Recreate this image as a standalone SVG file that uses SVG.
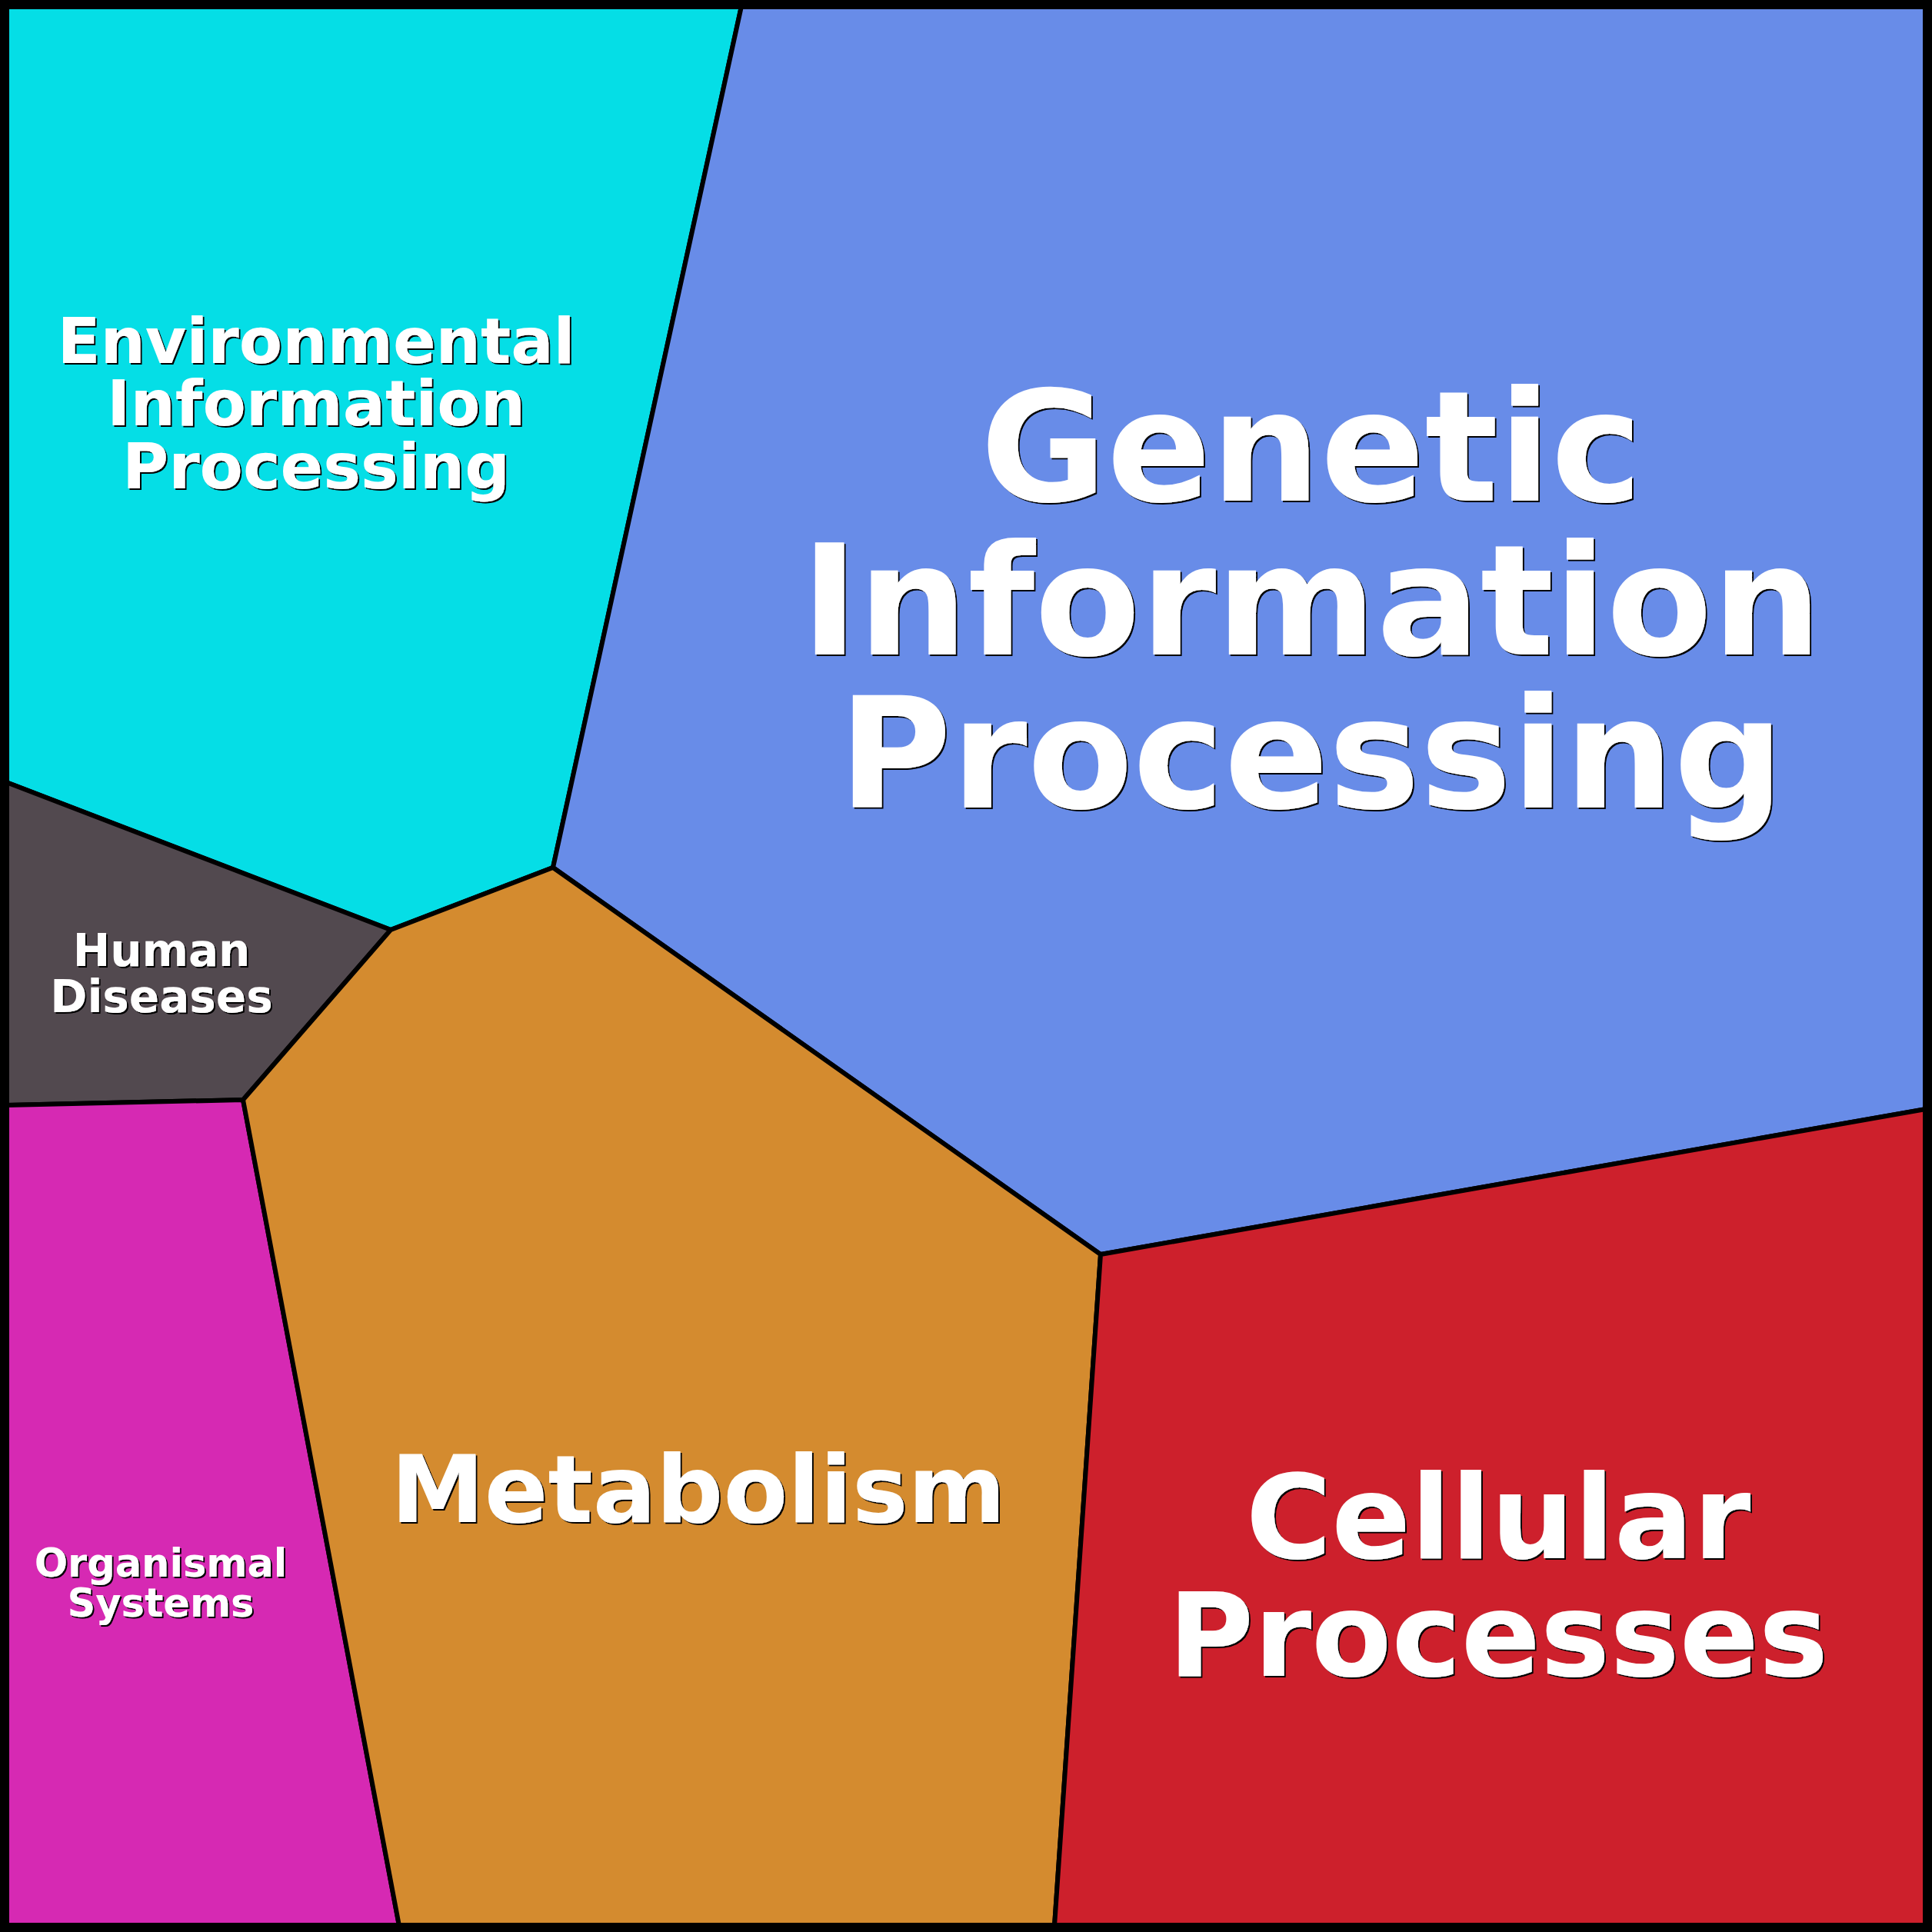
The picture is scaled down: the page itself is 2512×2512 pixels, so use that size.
<svg xmlns="http://www.w3.org/2000/svg" width="2512" height="2512" viewBox="0 0 2512 2512">
<defs>
<filter id="sh" x="-5%" y="-5%" width="110%" height="110%">
<feOffset in="SourceAlpha" dx="1.5" dy="1.5" result="o"/>
<feFlood flood-color="#000"/>
<feComposite in2="o" operator="in" result="s"/>
<feMerge><feMergeNode in="s"/><feMergeNode in="SourceGraphic"/></feMerge>
</filter>
</defs>
<style>
.cell{stroke:#000;stroke-width:6;stroke-linejoin:miter}
.lbl{font-family:"DejaVu Sans","Liberation Sans",sans-serif;font-weight:bold;text-anchor:middle;fill:#fff;filter:url(#sh)}
</style>
<g id="environmental">
<polygon class="cell" fill="#05DEE6" points="8,8 964,8 719,1128 508,1209 8,1017"/>
<text class="lbl" font-size="82" x="411" y="472">Environmental<tspan x="411" y="553">Information</tspan><tspan x="411" y="635">Processing</tspan></text>
</g>
<g id="genetic">
<polygon class="cell" fill="#688CE8" points="964,8 2504,8 2504,1442 1431,1631 719,1128"/>
<text class="lbl" font-size="200" x="1705" y="651">Genetic<tspan x="1705" y="851">Information</tspan><tspan x="1705" y="1050">Processing</tspan></text>
</g>
<g id="human">
<polygon class="cell" fill="#52494F" points="8,1017 508,1209 316,1430 8,1437"/>
<text class="lbl" font-size="58" x="210" y="1256">Human<tspan x="210" y="1316">Diseases</tspan></text>
</g>
<g id="organismal">
<polygon class="cell" fill="#D629B3" points="8,1437 316,1430 519,2504 8,2504"/>
<text class="lbl" font-size="51" x="209" y="2050">Organismal<tspan x="209" y="2102">Systems</tspan></text>
</g>
<g id="metabolism">
<polygon class="cell" fill="#D48B2F" points="508,1209 719,1128 1431,1631 1371,2504 519,2504 316,1430"/>
<text class="lbl" font-size="122" x="908" y="1979">Metabolism</text>
</g>
<g id="cellular">
<polygon class="cell" fill="#CD202C" points="1431,1631 2504,1442 2504,2504 1371,2504"/>
<text class="lbl" font-size="152" x="1948" y="2026">Cellular<tspan x="1948" y="2179">Processes</tspan></text>
</g>
<rect id="frame" x="6" y="6" width="2500" height="2500" fill="none" stroke="#000" stroke-width="12"/>
</svg>
